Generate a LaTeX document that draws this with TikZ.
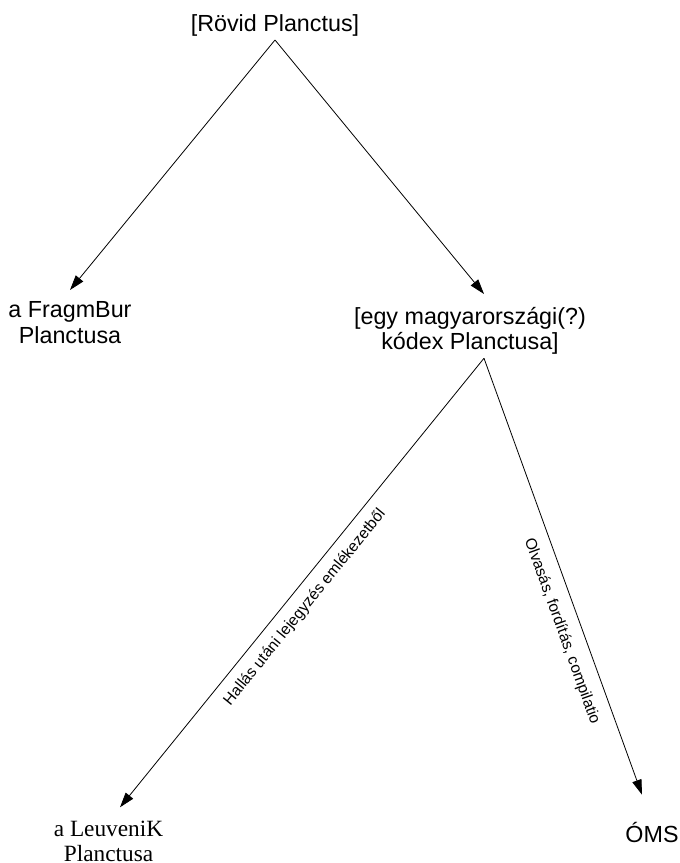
\documentclass[tikz,border=0pt]{standalone}
\usepackage{fontspec}
\setmainfont{Liberation Sans}
\newfontfamily\serifFont{Liberation Serif}
\usetikzlibrary{arrows.meta}
\begin{document}
\begin{tikzpicture}[x=1pt,y=-1pt,
  txt/.style={font=\fontsize{23.3}{25.5}\selectfont, align=center, inner sep=3.33pt},
  sertxt/.style={font=\serifFont\fontsize{23.3}{25}\selectfont, align=center, inner sep=3.33pt},
  lab/.style={font=\fontsize{15.6}{18}\selectfont, sloped, inner sep=0pt},
  arr/.style={line width=0.8pt, -{Triangle[length=15pt,width=9.5pt]}}]
\useasboundingbox (0,0) rectangle (680,863);
\node[txt, anchor=south] (rovid) at (275,40) {[Rövid Planctus]};
\node[txt, anchor=north] (fragm) at (70,298) {a FragmBur\\Planctusa};
\node[txt, anchor=north] (egy) at (470,303.7) {[egy magyarországi(?)\\kódex Planctusa]};
\node[sertxt, anchor=north] (leuven) at (108.5,817.3) {a LeuveniK\\Planctusa};
\node[txt, anchor=north] (oms) at (652,818.7) {ÓMS};
\draw[arr] (rovid.south) -- ([yshift=8pt]fragm.north);
\draw[arr] (rovid.south) -- ([xshift=14pt,yshift=9.7pt]egy.north);
\draw[arr] ([xshift=14pt]egy.south) -- node[lab, pos=0.53, below=10pt] {Hallás utáni lejegyzés emlékezetből} ([xshift=11.5pt,yshift=10pt]leuven.north);
\draw[arr] ([xshift=14pt]egy.south) -- node[lab, pos=0.61, below=12pt] {Olvasás, fordítás, compilatio} ([xshift=-10pt,yshift=24pt]oms.north);
\end{tikzpicture}
\end{document}
